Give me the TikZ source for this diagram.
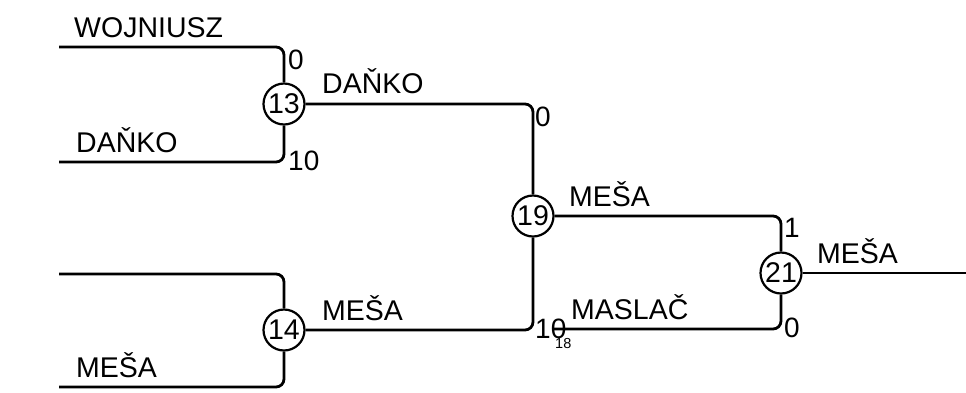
\documentclass[tikz,border=0pt]{standalone}
\usepackage{fontspec}
\setmainfont{Liberation Sans}
\begin{document}
\begin{tikzpicture}[x=1pt,y=-1pt,
  wire/.style={line width=2.8pt, rounded corners=8pt},
  match/.style={circle, draw, line width=2.2pt, minimum size=41pt, inner sep=0pt, font=\fontsize{28.5}{28.5}\selectfont},
  lbl/.style={anchor=base west, inner sep=0pt, font=\fontsize{28.5}{28.5}\selectfont},
  sc/.style={anchor=west, inner sep=0pt, font=\fontsize{28}{28}\selectfont},
  tiny/.style={anchor=west, inner sep=0pt, font=\fontsize{14.5}{14.5}\selectfont}]
\useasboundingbox (0,0) rectangle (966,392);
% match nodes
\node[match] (m13) at (284,104) {13};
\node[match] (m14) at (284,330) {14};
\node[match] (m19) at (533,216) {19};
\node[match] (m21) at (781,273) {21};
% free ends
\coordinate (w1) at (59,47);
\coordinate (w2) at (59,162);
\coordinate (w3) at (59,274);
\coordinate (w4) at (59,387);
\coordinate (ms) at (553,329);
\coordinate (fin) at (966,273);
% connectors
\draw[wire] (w1) -| (m13);
\draw[wire] (w2) -| (m13);
\draw[wire] (w3) -| (m14);
\draw[wire] (w4) -| (m14);
\draw[wire] (m13) -| (m19);
\draw[wire] (m14) -| (m19);
\draw[wire] (m19) -| (m21);
\draw[wire] (ms) -| (m21);
\draw[wire] (m21) -- (fin);
% labels
\node[lbl] (t1) at (74,37) {WOJNIUSZ};
\node[lbl] (t2) at (76,152) {DAŇKO};
\node[lbl] (t3) at (76,377) {MEŠA};
\node[lbl] (t4) at (322,93) {DAŇKO};
\node[lbl] (t5) at (322,320) {MEŠA};
\node[lbl] (t6) at (569,206) {MEŠA};
\node[lbl] (t7) at (571,319) {MASLAČ};
\node[lbl] (t8) at (817,263) {MEŠA};
% scores
\node[sc] (s1) at (288,60) {0};
\node[sc] (s2) at (288,161) {10};
\node[sc] (s3) at (535,117) {0};
\node[sc] (s4) at (535,329) {10};
\node[tiny] (s5) at (555,343) {18};
\node[sc] (s6) at (784,228) {1};
\node[sc] (s7) at (784,328) {0};
\end{tikzpicture}
\end{document}
